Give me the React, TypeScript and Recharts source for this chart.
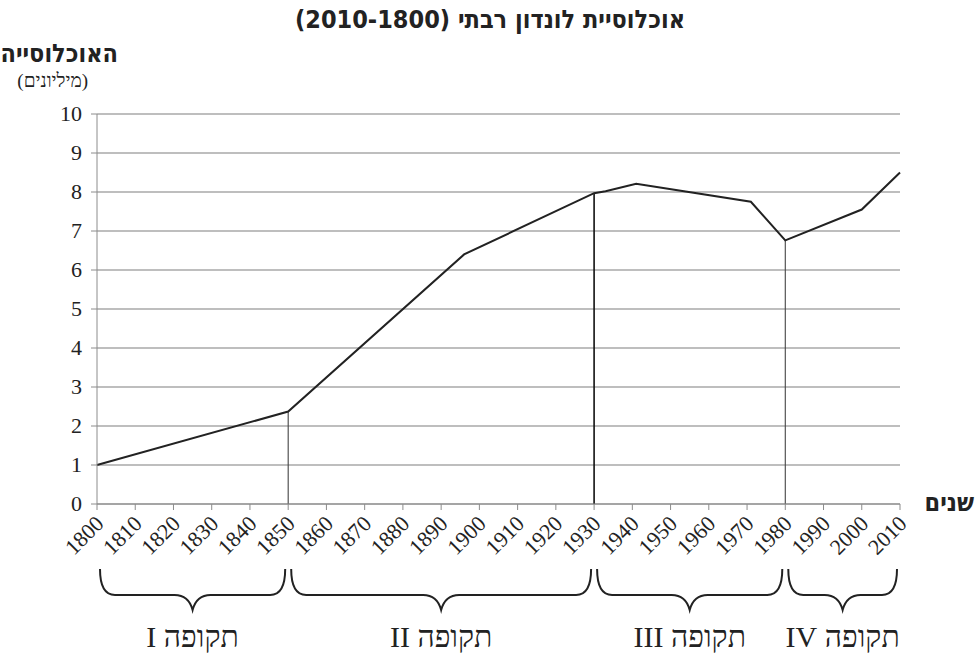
import React from 'react';
import { LineChart, Line, XAxis, YAxis, CartesianGrid, ReferenceLine } from 'recharts';

// population of greater London, millions
const years = [1800, 1850, 1896, 1930, 1933, 1941, 1971, 1980, 2000, 2010];
const population = [1.0, 2.37, 6.4, 7.97, 8.02, 8.21, 7.75, 6.76, 7.55, 8.5];
const yearTicks = [1800, 1810, 1820, 1830, 1840, 1850, 1860, 1870, 1880, 1890, 1900, 1910, 1920, 1930, 1940, 1950, 1960, 1970, 1980, 1990, 2000, 2010];
const popTicks = [0, 1, 2, 3, 4, 5, 6, 7, 8, 9, 10];
const boundaries = [1850, 1930, 1980];
const periodNames = ['תקופה I', 'תקופה II', 'תקופה III', 'תקופה IV'];
const periodEdges = [1800, 1850, 1930, 1980, 2010];

const data = years.map((year, i) => ({ year, pop: population[i] }));
const popAt = (yr: number) => population[years.indexOf(yr)];

const SERIF = '"Liberation Serif", "Times New Roman", serif';
const BOLD = '"DejaVu Sans Condensed", "DejaVu Sans", sans-serif';

const YearTick = ({ x, y, payload }: { x?: number; y?: number; payload?: { value: number } }) => {
  const ax = (x ?? 0) + 8;
  const ay = (y ?? 0) + 13;
  return (
    <text x={ax} y={ay} transform={`rotate(-45 ${ax} ${ay})`} textAnchor="end" style={{ fontSize: 22, fontFamily: SERIF, fill: '#222' }}>
      {payload?.value}
    </text>
  );
};

const PopTick = ({ x, y, payload }: { x?: number; y?: number; payload?: { value: number } }) => (
  <text x={x} y={(y ?? 0) + 7} textAnchor="end" style={{ fontSize: 22, fontFamily: SERIF, fill: '#222' }}>
    {payload?.value}
  </text>
);

const braceShape = (label: string) => (p: { x1?: number; x2?: number; y1?: number }) => {
  const a = (p.x1 ?? 0) + 3;
  const b = (p.x2 ?? 0) - 3;
  const base = p.y1 ?? 0;
  const y0 = base + 65, y1 = base + 91, y2 = base + 106;
  const m = (a + b) / 2;
  const r = 15;
  const d = `M ${a} ${y0} Q ${a} ${y1} ${a + r} ${y1} L ${m - 18} ${y1} Q ${m - 4} ${y1} ${m} ${y2} Q ${m + 4} ${y1} ${m + 18} ${y1} L ${b - r} ${y1} Q ${b} ${y1} ${b} ${y0}`;
  return (
    <g>
      <path d={d} fill="none" stroke="#222" strokeWidth={2} />
      <text x={m} y={base + 143} textAnchor="middle" direction="rtl" style={{ fontSize: 30, fontFamily: SERIF, fill: '#222' }}>{label}</text>
    </g>
  );
};

export default function App() {
  return (
    <div style={{ position: 'absolute', left: 0, top: 0, width: 980, height: 653, background: '#fff' }}>
      <div style={{ position: 'absolute', top: 5, left: 0, width: 980, textAlign: 'center', direction: 'rtl', fontFamily: BOLD, fontWeight: 700, fontSize: 25, color: '#222' }}>
        אוכלוסיית לונדון רבתי (2010-1800)
      </div>
      <div style={{ position: 'absolute', top: 39, left: 4, width: 114, textAlign: 'right', direction: 'rtl', fontFamily: BOLD, fontWeight: 700, fontSize: 25, color: '#222', whiteSpace: 'nowrap' }}>
        האוכלוסייה
      </div>
      <div style={{ position: 'absolute', top: 70, left: 4, width: 84, textAlign: 'right', direction: 'rtl', fontFamily: SERIF, fontSize: 19, color: '#222', whiteSpace: 'nowrap' }}>
        (מיליונים)
      </div>
      <div style={{ position: 'absolute', top: 488, left: 912, width: 62, textAlign: 'right', direction: 'rtl', fontFamily: BOLD, fontWeight: 700, fontSize: 25, color: '#222' }}>
        שנים
      </div>
      <LineChart width={980} height={653} data={data} margin={{ top: 114, right: 80, bottom: 89, left: 37 }} style={{ position: 'absolute', left: 0, top: 0 }}>
        <CartesianGrid vertical={false} stroke="#a8a8a8" strokeWidth={1.3} />
        <XAxis
          dataKey="year"
          type="number"
          domain={[1800, 2010]}
          ticks={yearTicks}
          interval={0}
          height={60}
          tickSize={6}
          stroke="#8c8c8c"
          tick={(props: any) => <YearTick {...props} />}
        />
        <YAxis
          domain={[0, 10]}
          ticks={popTicks}
          interval={0}
          width={60}
          tickSize={6}
          tickMargin={9}
          stroke="#8c8c8c"
          tick={(props: any) => <PopTick {...props} />}
        />
        {boundaries.map((yr, i) => (
          <ReferenceLine
            key={yr}
            segment={[{ x: yr, y: 0 }, { x: yr, y: popAt(yr) }]}
            stroke={i === 1 ? '#111' : '#444'}
            strokeWidth={i === 1 ? 1.6 : 1.1}
          />
        ))}
        {periodNames.map((name, i) => (
          <ReferenceLine
            key={name}
            segment={[{ x: periodEdges[i], y: 0 }, { x: periodEdges[i + 1], y: 0 }]}
            ifOverflow="visible"
            shape={braceShape(name)}
          />
        ))}
        <Line type="linear" dataKey="pop" stroke="#222" strokeWidth={2} dot={false} isAnimationActive={false} />
      </LineChart>
    </div>
  );
}
